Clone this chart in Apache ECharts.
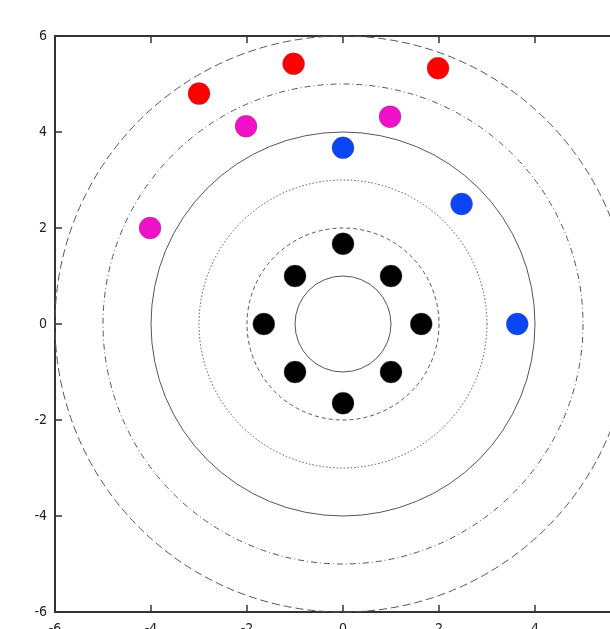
<!DOCTYPE html>
<html><head><meta charset="utf-8">
<script src="https://cdn.jsdelivr.net/npm/echarts@6/dist/echarts.min.js"></script>
<style>html,body{margin:0;padding:0;background:#fff}#c{width:610px;height:629px}</style>
</head><body><div id="c"></div>
<script>
var axisTicks = [-6, -4, -2, 0, 2, 4, 6];
var ringRadii = [1, 2, 3, 4, 5, 6];
var ringStyles = ['solid', [4, 3], [1.5, 2], 'solid', [6, 3, 1, 3], [8, 4]];
var blackPoints = [[0, 1.67], [1, 1], [1.63, 0], [1, -1], [0, -1.65], [-1, -1], [-1.65, 0], [-1, 1]];
var bluePoints = [[0, 3.67], [2.47, 2.5], [3.63, 0]];
var magentaPoints = [[-4.02, 2.0], [-2.02, 4.12], [0.98, 4.32]];
var redPoints = [[-3.0, 4.8], [-1.03, 5.42], [1.98, 5.33]];

var chart = echarts.init(document.getElementById('c'));
var font = '"Liberation Sans Narrow", "DejaVu Sans Condensed", "Liberation Sans", sans-serif';
function pts(name, data, color) {
  return { name: name, type: 'scatter', data: data, symbolSize: 22, z: 5,
    itemStyle: { color: color, opacity: 1, borderColor: 'rgba(90,90,90,0.35)', borderWidth: 1 } };
}
var axisCommon = {
  type: 'value', min: -6, max: 6, interval: 2,
  axisLine: { onZero: false, lineStyle: { color: '#333', width: 2 } },
  axisTick: { inside: true, length: 7, lineStyle: { color: '#333', width: 1.5 } },
  axisLabel: { color: '#222', fontSize: 14, fontFamily: font, margin: 8 },
  splitLine: { show: false }
};
chart.setOption({
  animation: false,
  grid: { left: 55, top: 36, width: 576, height: 576, containLabel: false, outerBoundsMode: 'none' },
  xAxis: [Object.assign({}, axisCommon, { position: 'bottom', axisLabel: { color: '#222', fontSize: 14, fontFamily: font, margin: 10 } }),
    Object.assign({}, axisCommon, { position: 'top', axisLabel: { show: false } })],
  yAxis: [Object.assign({}, axisCommon, { position: 'left' })],
  series: [
    { type: 'custom', z: 2, silent: true,
      data: ringRadii.map(function (r, i) { return [r, i]; }),
      renderItem: function (params, api) {
        var r = api.value(0), idx = api.value(1);
        var c = api.coord([0, 0]);
        var rp = api.size([r, 0])[0];
        return { type: 'circle', shape: { cx: c[0], cy: c[1], r: rp },
          style: { fill: null, stroke: '#555', lineWidth: 1, lineDash: ringStyles[idx] === 'solid' ? null : ringStyles[idx] } };
      } },
    pts('black', blackPoints, '#000000'),
    pts('blue', bluePoints, '#0a46f5'),
    pts('magenta', magentaPoints, '#f010c8'),
    pts('red', redPoints, '#ff0000')
  ]
});
</script></body></html>
